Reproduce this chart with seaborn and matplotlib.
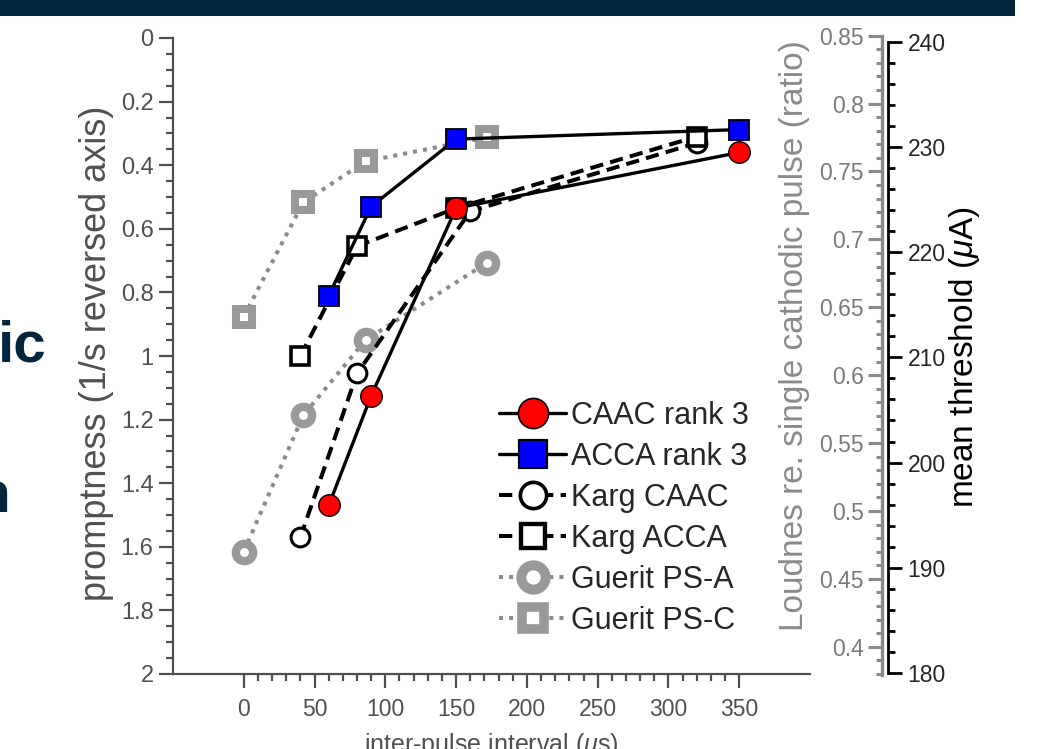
import matplotlib
matplotlib.use('Agg')
import matplotlib.pyplot as plt
from matplotlib.patches import Rectangle
from matplotlib.ticker import MultipleLocator, FixedLocator, FuncFormatter
import seaborn as sns

sns.set_style('white')
plt.rcParams['font.family'] = ['Liberation Sans', 'DejaVu Sans']
plt.rcParams['mathtext.fontset'] = 'custom'
plt.rcParams['mathtext.rm'] = 'Liberation Sans'
plt.rcParams['mathtext.it'] = 'Liberation Sans:italic'

# promptness (1/s) vs inter-pulse interval (us)
caac_x = [60, 90, 150, 350]
caac_y = [1.47, 1.125, 0.535, 0.36]
acca_x = [60, 90, 150, 350]
acca_y = [0.81, 0.53, 0.318, 0.288]
karg_caac_x = [40, 80, 160, 320]
karg_caac_y = [1.57, 1.055, 0.545, 0.33]
karg_acca_x = [40, 80, 150, 320]
karg_acca_y = [1.0, 0.655, 0.535, 0.31]
ps_a_x = [0, 42, 86, 172]
ps_a_y = [1.615, 1.187, 0.95, 0.706]
ps_c_x = [0, 42, 86, 172]
ps_c_y = [0.876, 0.517, 0.388, 0.312]

x_ticks = [0, 50, 100, 150, 200, 250, 300, 350]

NAVY = '#03263f'
AXGREY = '#505050'
LGREY = '#8a8a8a'
MGREY = '#999999'

W, H = 1061, 749
def fx(px):
    return px / W
def fy(py):
    return 1 - py / H

fig = plt.figure(figsize=(W / 100, H / 100), dpi=100)

# slide bits around the chart
fig.add_artist(Rectangle((0, fy(16)), fx(1015), 16 / H, transform=fig.transFigure,
                         color=NAVY, lw=0))
fig.text(fx(47), fy(362), 'ic', ha='right', va='baseline', fontsize=42,
         fontweight='bold', color=NAVY)
fig.text(fx(11), fy(512), 'n', ha='right', va='baseline', fontsize=42,
         fontweight='bold', color=NAVY)

ax = fig.add_axes([fx(173), fy(674), fx(810) - fx(173), fy(38) - fy(674)])
ax.set_facecolor('none')

series = [
    ('Guerit PS-A', ps_a_x, ps_a_y,
     dict(color=LGREY, lw=2.9, ls=(0, (1, 1.5)), marker='o', ms=12.5, mfc='white',
          mec=MGREY, mew=6), 1),
    ('Guerit PS-C', ps_c_x, ps_c_y,
     dict(color=LGREY, lw=2.9, ls=(0, (1, 1.5)), marker='s', ms=11, mfc='white',
          mec=MGREY, mew=5.8), 1),
    ('Karg CAAC', karg_caac_x, karg_caac_y,
     dict(color='black', lw=2.9, ls=(0, (3.3, 1.8)), marker='o', ms=13.5, mfc='white',
          mec='black', mew=2.2), 2),
    ('Karg ACCA', karg_acca_x, karg_acca_y,
     dict(color='black', lw=2.9, ls=(0, (3.3, 1.8)), marker='s', ms=12.5, mfc='white',
          mec='black', mew=2.6), 2),
    ('CAAC rank 3', caac_x, caac_y,
     dict(color='black', lw=2.4, ls='-', marker='o', ms=15.5, mfc='red',
          mec='black', mew=1.0), 3),
    ('ACCA rank 3', acca_x, acca_y,
     dict(color='black', lw=2.4, ls='-', marker='s', ms=14, mfc='blue',
          mec='black', mew=1.3), 3),
]

for name, xs, ys, kws, z in series:
    sns.lineplot(x=xs, y=ys, ax=ax, label=name, zorder=z, clip_on=False, **kws)

ax.set_xlim(-50, 400)
ax.set_ylim(2, 0)
ax.xaxis.set_major_locator(FixedLocator(x_ticks))
ax.xaxis.set_minor_locator(FixedLocator(list(range(0, 351, 10))))
ax.yaxis.set_major_locator(MultipleLocator(0.2))
ax.yaxis.set_minor_locator(MultipleLocator(0.05))
ax.yaxis.set_major_formatter(FuncFormatter(lambda v, p: '%g' % round(v, 3)))
for s in ['top', 'right']:
    ax.spines[s].set_visible(False)
for s in ['left', 'bottom']:
    ax.spines[s].set_color(AXGREY)
    ax.spines[s].set_linewidth(1.6)
ax.tick_params(which='both', direction='out', color=AXGREY, width=1.6,
               bottom=True, left=True, labelcolor=AXGREY)
ax.tick_params(which='major', length=10)
ax.tick_params(which='minor', length=5)
ax.tick_params(axis='x', labelsize=16.5, pad=7)
ax.tick_params(axis='y', labelsize=17, pad=4)
fig.text(fx(491), fy(731), r'inter-pulse interval ($\mu$s)', ha='center', va='top',
         fontsize=18, color=AXGREY)
fig.text(fx(97), fy(353), 'promptness (1/s reversed axis)', rotation=90,
         ha='center', va='center', fontsize=26, color=AXGREY)

# legend in the original order, bigger markers than in the plot
handles, labels = ax.get_legend_handles_labels()
order = ['CAAC rank 3', 'ACCA rank 3', 'Karg CAAC', 'Karg ACCA', 'Guerit PS-A', 'Guerit PS-C']
hmap = dict(zip(labels, handles))
leg = ax.legend([hmap[k] for k in order], order, loc='upper left',
                bbox_to_anchor=(fx(499), fy(401)), bbox_transform=fig.transFigure,
                frameon=False, fontsize=22, handlelength=2.2, handletextpad=0.15,
                labelspacing=0.36, borderpad=0, borderaxespad=0, numpoints=1)
for h in leg.legend_handles:
    h.set_markersize(h.get_markersize() * 1.4)
    h.set_markeredgewidth(h.get_markeredgewidth() * 1.2)

# loudness axis (grey)
axg = fig.add_axes([fx(882), fy(675), 0.0001, fy(35.7) - fy(675)])
axg.set_facecolor('none')
axg.set_ylim(0.3792, 0.85)
axg.set_xticks([])
for s in ['top', 'right', 'bottom']:
    axg.spines[s].set_visible(False)
axg.spines['left'].set_color(LGREY)
axg.spines['left'].set_linewidth(2.4)
axg.yaxis.set_major_locator(MultipleLocator(0.05))
axg.yaxis.set_minor_locator(MultipleLocator(0.01))
axg.yaxis.set_major_formatter(FuncFormatter(lambda v, p: '%g' % round(v, 3)))
axg.tick_params(which='both', direction='out', left=True, color=LGREY, width=2.2,
                labelcolor='#7a7a7a', labelsize=16.5, pad=3)
axg.tick_params(which='major', length=10)
axg.tick_params(which='minor', length=4)
fig.text(fx(795), fy(336), 'Loudnes re. single cathodic pulse (ratio)', rotation=90,
         ha='center', va='center', fontsize=24, color=LGREY)

# threshold axis (black)
axb = fig.add_axes([fx(888), fy(673), 0.0001, fy(41.7) - fy(673)])
axb.set_facecolor('none')
axb.set_ylim(180, 240)
axb.set_xticks([])
for s in ['top', 'left', 'bottom']:
    axb.spines[s].set_visible(False)
axb.spines['right'].set_color('black')
axb.spines['right'].set_linewidth(2.0)
axb.yaxis.set_major_locator(MultipleLocator(10))
axb.yaxis.set_minor_locator(MultipleLocator(2))
axb.tick_params(which='both', direction='out', left=False, right=True, labelleft=False,
                labelright=True, color='black', width=2.0, labelsize=16.5, pad=4)
axb.tick_params(which='major', length=10)
axb.tick_params(which='minor', length=5)
fig.text(fx(965), fy(357), r'mean threshold ($\mu$A)', rotation=90,
         ha='center', va='center', fontsize=24, color='black')

fig.savefig('out.png', dpi=100)
